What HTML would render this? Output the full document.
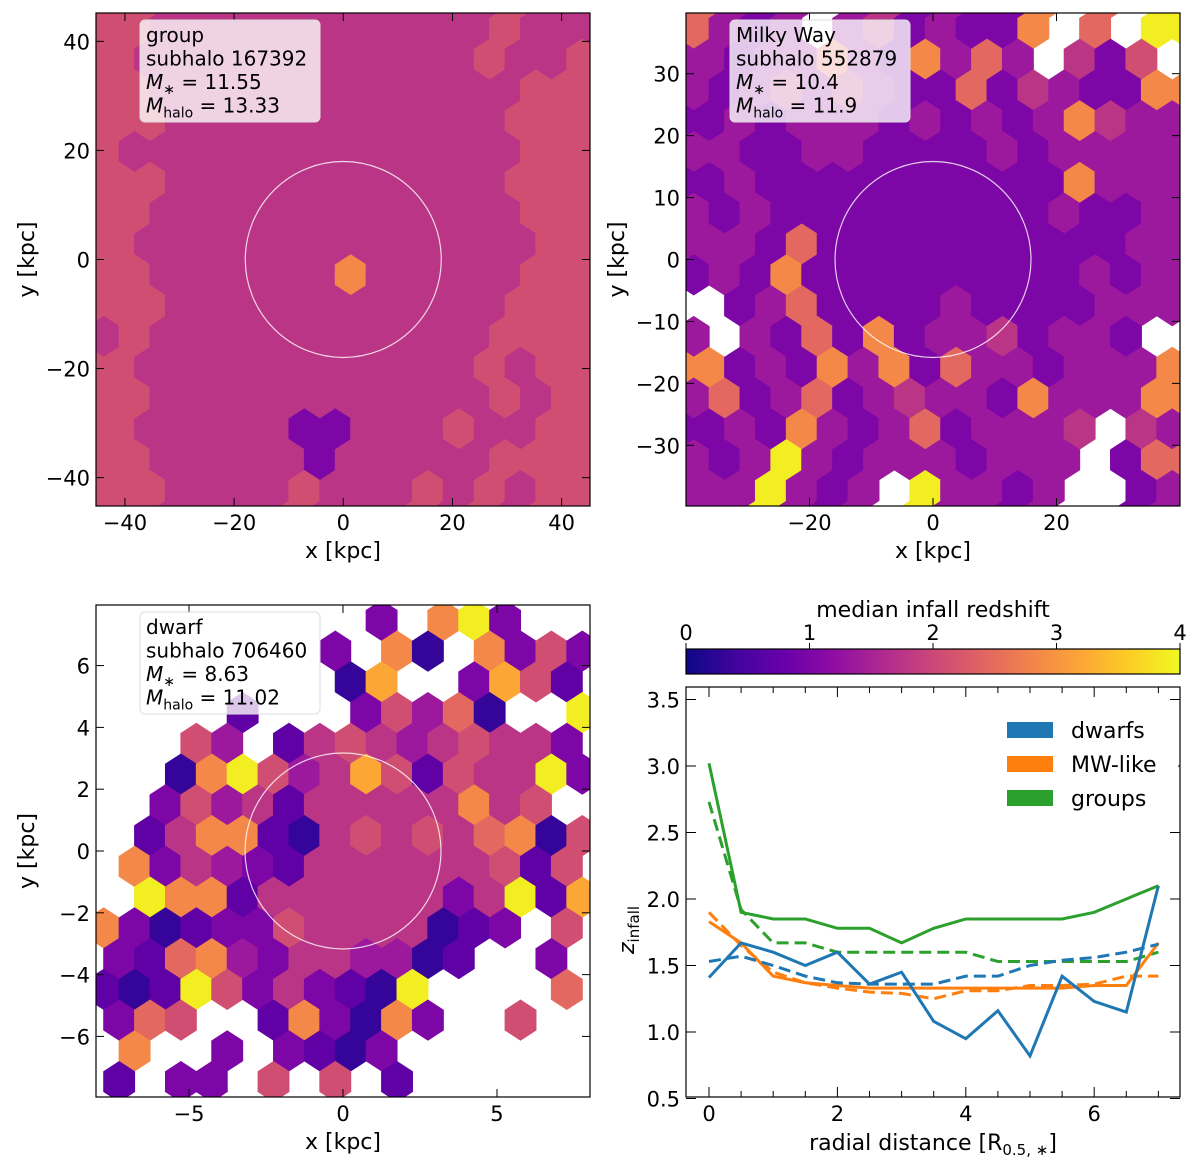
<!DOCTYPE html>
<html><head><meta charset="utf-8"><style>
body{margin:0;background:#fff;}
svg text{font-family:"DejaVu Sans","Liberation Sans",sans-serif;fill:#000;}
</style></head><body>
<svg id="fig" width="1200" height="1169" viewBox="0 0 1200 1169" xmlns="http://www.w3.org/2000/svg"></svg>
<script>
// ---- data ----
const levels=[0.3,0.7,1.0,1.35,1.75,2.1,2.45,2.85,3.2,3.9];
const groupMap=[
"5544444444444544","5444444444445445","5544444444444455","5544444444444555",
"5444444444444455","5544444444444555","5544444444444455","5444444444444455",
"5544444474444455","5544444444444555","4544444444444555","5444444444445455",
"5544444444444545","5444442244454455","5544444244444555","5544445444545455"];
const mwMap=[
"6323.3423227.6.9","32336327363.425.","3234343226243227","2323332323237433",
"3322332222323333","2322222222227333","3232222222223223","3326222222222233",
"2327222222222323",".236222232222333","3.3262723342332.","7232737263323337",
"3623623433273337","2327323623334.43","3239323332333.26","339323.93323..23"];
const dwarfMap=[
".........2.792..",".......2.70.7252","........08..2851","....1...25360..9",
"...53.1454345442","..07953485154492","..2534144444745.",".147710454546705",
".724321444444515",".977144444424918","72012254444012.5","216732443301..2.",
"10195242109....6","265..172072..5..",".7..2.2102......","1.22.5.5.1......"];
const radial=[0,0.5,1,1.5,2,2.5,3,3.5,4,4.5,5,5.5,6,6.5,7];
const dwarfsSolid=[1.41,1.67,1.60,1.50,1.60,1.36,1.45,1.08,0.95,1.16,0.82,1.42,1.23,1.15,2.10];
const dwarfsDashed=[1.53,1.57,1.50,1.42,1.37,1.36,1.36,1.36,1.42,1.42,1.50,1.54,1.56,1.60,1.66];
const mwSolid=[1.83,1.67,1.42,1.37,1.35,1.33,1.33,1.33,1.33,1.33,1.33,1.33,1.35,1.35,1.67];
const mwDashed=[1.90,1.65,1.45,1.37,1.33,1.30,1.29,1.25,1.31,1.31,1.35,1.35,1.36,1.42,1.42];
const groupsSolid=[3.02,1.90,1.85,1.85,1.78,1.78,1.67,1.78,1.85,1.85,1.85,1.85,1.90,2.00,2.10];
const groupsDashed=[2.73,1.92,1.67,1.67,1.60,1.60,1.60,1.60,1.60,1.53,1.53,1.53,1.53,1.53,1.60];
const yTicks4=[0.5,1.0,1.5,2.0,2.5,3.0,3.5];
const xTicks4=[0,2,4,6];
const cbTicks=[0,1,2,3,4];

const NS="http://www.w3.org/2000/svg";
const svg=document.getElementById('fig');
function mk(tag,attrs,parent){const e=document.createElementNS(NS,tag);for(const k in attrs)e.setAttribute(k,attrs[k]);(parent||svg).appendChild(e);return e;}
const stops=["#0d0887","#41049d","#6a00a8","#8f0da4","#b12a90","#cc4778","#e16462","#f2844b","#fca636","#fcce25","#f0f921"];
function hx(c){return [1,3,5].map(i=>parseInt(c.substr(i,2),16));}
function plasma(t){t=Math.max(0,Math.min(1,t));const f=t*10,i=Math.min(9,Math.floor(f)),u=f-i;const a=hx(stops[i]),b=hx(stops[i+1]);return "rgb("+a.map((v,k)=>Math.round(v+(b[k]-v)*u)).join(",")+")";}

function panel(L,T,W,H,map,xr,yr,xt,yt,fmt,name,circleR,box,dense){
  const g=mk('g',{},svg);
  
  
  const nR=map.length,nC=16,pxw=W/nC,pyh=H/nR;
  const cl=mk('clipPath',{id:'c'+name},g);mk('rect',{x:L,y:T,width:W,height:H},cl);
  const hg=mk('g',{'clip-path':'url(#c'+name+')'},g);
  const r0=dense?-1:0,r1=dense?nR+1:nR;
  for(let r=r0;r<r1;r++){const row=map[Math.max(0,Math.min(nR-1,r))];
    for(let c=(dense?-1:0);c<(dense?nC+1:nC);c++){const ch=row[Math.max(0,Math.min(nC-1,c))];if(!ch||ch==='.')continue;
    const z=levels[parseInt(ch)];const odd=((r%2)+2)%2;const cx=L+(c+0.5)*pxw+(odd?pxw*0.25:-pxw*0.25),cy=T+(r+0.5)*pyh;
    const w=pxw/2+0.5,h=pyh*0.67;
    const p=mk('polygon',{points:[[cx,cy-h],[cx+w,cy-h/2],[cx+w,cy+h/2],[cx,cy+h],[cx-w,cy+h/2],[cx-w,cy-h/2]].map(q=>q.join(',')).join(' '),fill:plasma(z/4)},hg);
    
    }}
  const sx=v=>L+(v-xr[0])/(xr[1]-xr[0])*W, sy=v=>T+(yr[1]-v)/(yr[1]-yr[0])*H;
  mk('circle',{cx:sx(0),cy:sy(0),r:circleR,fill:'none',stroke:'#fff','stroke-opacity':0.8,'stroke-width':1.2},g);
  mk('rect',{x:L,y:T,width:W,height:H,fill:'none',stroke:'#000','stroke-width':1.2},g);
  xt.forEach(v=>{const x=sx(v);mk('line',{x1:x,x2:x,y1:T+H,y2:T+H-8,stroke:'#000'},g);mk('line',{x1:x,x2:x,y1:T,y2:T+8,stroke:'#000'},g);
    const t=mk('text',{x:x,y:T+H+24,'text-anchor':'middle','font-size':21},g);t.textContent=fmt(v);});
  yt.forEach(v=>{const y=sy(v);mk('line',{x1:L,x2:L+8,y1:y,y2:y,stroke:'#000'},g);mk('line',{x1:L+W,x2:L+W-8,y1:y,y2:y,stroke:'#000'},g);
    const t=mk('text',{x:L-6,y:y+8,'text-anchor':'end','font-size':21},g);t.textContent=fmt(v);});
  const xl=mk('text',{x:L+W/2,y:T+H+52,'text-anchor':'middle','font-size':22},g);xl.textContent='x [kpc]';
  
  const yl=mk('text',{x:0,y:0,'text-anchor':'middle','font-size':22,transform:'translate('+(L-62)+','+(T+H/2)+') rotate(-90)'},g);yl.textContent='y [kpc]';
  
  const bx=mk('g',{},g);
  mk('rect',{x:L+44,y:T+7,width:180,height:102,rx:5,fill:'#fff','fill-opacity':0.78,stroke:'#ddd'},bx);
  box.forEach((s,i)=>{const t=mk('text',{x:L+50,y:T+29+i*23.5,'font-size':20},bx);t.innerHTML=s;});
}
const neg=v=>(v<0?'\u2212'+(-v):''+v);
panel(96,13,494,493,groupMap,[-45.3,45.2],[-45.2,45.2],[-40,-20,0,20,40],[-40,-20,0,20,40],neg,'group-panel',98,
 ['group','subhalo 167392','<tspan font-style="italic">M</tspan><tspan font-size="14" dy="5">∗</tspan><tspan dy="-5"> = 11.55</tspan>','<tspan font-style="italic">M</tspan><tspan font-size="14" dy="5">halo</tspan><tspan dy="-5"> = 13.33</tspan>'],true);
panel(686,13,494,493,mwMap,[-40,40],[-39.8,39.8],[-20,0,20],[-30,-20,-10,0,10,20,30],neg,'milky-way-panel',98,
 ['Milky Way','subhalo 552879','<tspan font-style="italic">M</tspan><tspan font-size="14" dy="5">∗</tspan><tspan dy="-5"> = 10.4</tspan>','<tspan font-style="italic">M</tspan><tspan font-size="14" dy="5">halo</tspan><tspan dy="-5"> = 11.9</tspan>'],true);
panel(96,605,494,492,dwarfMap,[-8.02,8.02],[-7.96,7.96],[-5,0,5],[-6,-4,-2,0,2,4,6],neg,'dwarf-panel',98,
 ['dwarf','subhalo 706460','<tspan font-style="italic">M</tspan><tspan font-size="14" dy="5">∗</tspan><tspan dy="-5"> = 8.63</tspan>','<tspan font-style="italic">M</tspan><tspan font-size="14" dy="5">halo</tspan><tspan dy="-5"> = 11.02</tspan>'],false);

// colorbar
const cb=mk('g',{});
const gr=mk('linearGradient',{id:'pl',x1:0,x2:1,y1:0,y2:0},cb);
stops.forEach((c,i)=>mk('stop',{offset:i/10,'stop-color':c},gr));
mk('rect',{x:686,y:649,width:494,height:25,fill:'url(#pl)',stroke:'#000','stroke-width':1.2},cb);
cbTicks.forEach(v=>{const x=686+v/4*494;mk('line',{x1:x,x2:x,y1:649,y2:643,stroke:'#000'},cb);
 const t=mk('text',{x:x,y:640,'text-anchor':'middle','font-size':21},cb);t.textContent=v;});
const cbt=mk('text',{x:933,y:617,'text-anchor':'middle','font-size':22},cb);cbt.textContent='median infall redshift';

// line chart
const L4=686,T4=687,W4=494,H4=410;
const sx4=v=>709+v*64.2, sy4=v=>766+(3-v)*133;
const lc=mk('g',{});
mk('rect',{x:L4,y:T4,width:W4,height:H4,fill:'none',stroke:'#000','stroke-width':1.2},lc);
for(let v=0;v<=7.01;v+=0.5){const x=sx4(v),len=(v%2===0)?10:6;mk('line',{x1:x,x2:x,y1:T4+H4,y2:T4+H4-len,stroke:'#000'},lc);mk('line',{x1:x,x2:x,y1:T4,y2:T4+len,stroke:'#000'},lc);}
xTicks4.forEach(v=>{const t=mk('text',{x:sx4(v),y:T4+H4+24,'text-anchor':'middle','font-size':21},lc);t.textContent=v;});
yTicks4.forEach(v=>{const y=sy4(v);mk('line',{x1:L4,x2:L4+10,y1:y,y2:y,stroke:'#000'},lc);mk('line',{x1:L4+W4,x2:L4+W4-10,y1:y,y2:y,stroke:'#000'},lc);
 const t=mk('text',{x:L4-6,y:y+8,'text-anchor':'end','font-size':21},lc);t.textContent=v.toFixed(1);});
const xl4=mk('text',{x:933,y:1150,'text-anchor':'middle','font-size':22},lc);xl4.innerHTML='radial distance [R<tspan font-size="15" dy="5">0.5, ∗</tspan><tspan dy="-5">]</tspan>';
const yl4=mk('text',{x:0,y:0,'font-size':22,transform:'translate(634,930) rotate(-90)','text-anchor':'middle'},lc);yl4.innerHTML='<tspan font-style="italic">z</tspan><tspan font-size="15" dy="5">infall</tspan>';
function series(vals,color,dash,name){const p=mk('polyline',{points:radial.map((r,i)=>sx4(r)+','+sy4(vals[i])).join(' '),fill:'none',stroke:color,'stroke-width':3,'stroke-dasharray':dash},lc);
 }
series(groupsDashed,'#2ca02c','12,6','groups-dashed');
series(groupsSolid,'#2ca02c','none','groups-solid');
series(mwDashed,'#ff7f0e','12,6','mw-dashed');
series(mwSolid,'#ff7f0e','none','mw-solid');
series(dwarfsDashed,'#1f77b4','12,6','dwarfs-dashed');
series(dwarfsSolid,'#1f77b4','none','dwarfs-solid');
const lg=mk('g',{},lc);
mk('rect',{x:992,y:710,width:186,height:106,fill:'#fff',stroke:'none'},lg);
[['dwarfs','#1f77b4'],['MW-like','#ff7f0e'],['groups','#2ca02c']].forEach((e,i)=>{
 const y=730+i*34;const eg=mk('g',{},lg);
 mk('rect',{x:1007,y:y-8,width:46,height:16,fill:e[1]},eg);
 const t=mk('text',{x:1071,y:y+8,'font-size':22},eg);t.textContent=e[0];});
</script>
</body></html>
